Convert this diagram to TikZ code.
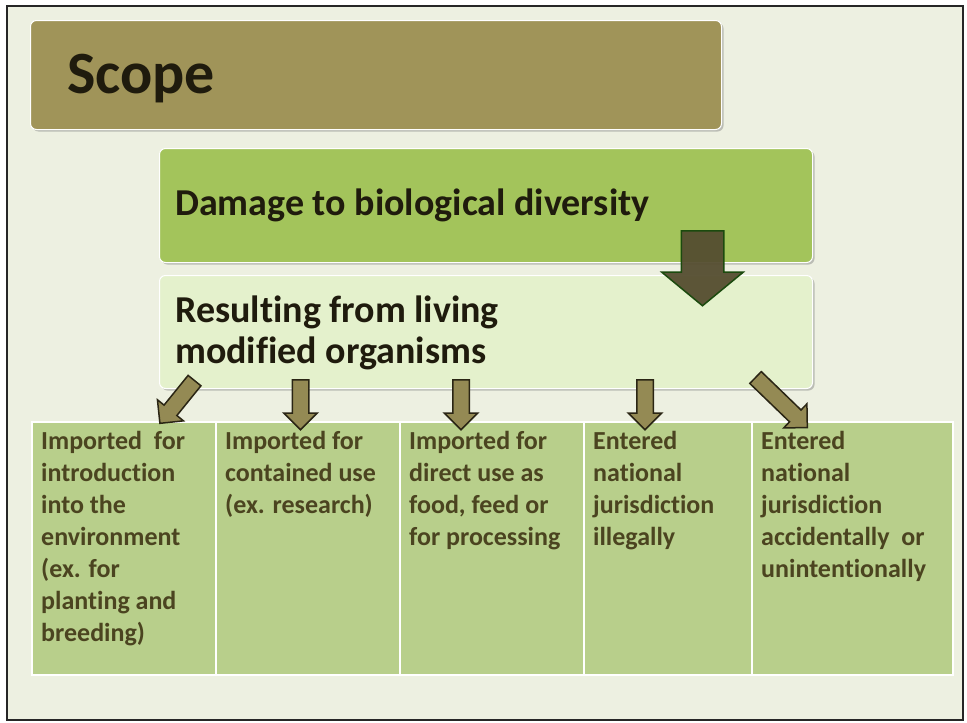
\documentclass[tikz,border=0pt]{standalone}
\usepackage{fontspec}
\setmainfont[Ligatures=NoCommon]{Carlito}
\usetikzlibrary{shapes.arrows,shadows}

\definecolor{slidebg}{HTML}{EDF0E1}
\definecolor{scopefill}{HTML}{A09459}
\definecolor{damagefill}{HTML}{A3C45B}
\definecolor{resultfill}{HTML}{E4F1CC}
\definecolor{cellfill}{HTML}{B8CF8B}
\definecolor{celltext}{HTML}{4B4420}
\definecolor{titletext}{HTML}{1F1B0D}
\definecolor{arrowfill}{HTML}{948A54}
\definecolor{arrowline}{HTML}{2A2514}
\definecolor{bigarrowfill}{HTML}{554D30}
\definecolor{bigarrowline}{HTML}{1B4A0E}

\tikzset{
  panel/.style={anchor=north west, rounded corners=6pt, draw=white, line width=1pt,
    drop shadow={shadow xshift=2pt, shadow yshift=-2pt, opacity=0.45, fill=gray}},
  paneltext/.style={anchor=base west, inner sep=0pt, text=titletext,
    font=\bfseries\fontsize{38}{41}\selectfont},
  cell/.style={anchor=north west, fill=cellfill, draw=white, line width=1.5pt},
  celllabel/.style={anchor=north west, inner sep=0pt, align=left, text=celltext,
    font=\bfseries\fontsize{26}{32}\selectfont},
  downarrow/.style={single arrow, anchor=tail, draw=arrowline, fill=arrowfill, line width=1.5pt,
    minimum width=0pt, inner xsep=0pt, inner ysep=7.5pt,
    single arrow head extend=8.5pt, minimum height=#1},
}

\begin{document}
\begin{tikzpicture}[x=1pt,y=-1pt]
    \useasboundingbox (0,0) rectangle (967,723);

    % Slide frame
    \draw[fill=slidebg, draw=black!85, line width=2.5pt] (7,6) rectangle (963,720);

    % Title bar
    \node[panel, fill=scopefill, minimum width=691, minimum height=109] (scope) at (30,20) {};
    \node[anchor=base west, inner sep=0pt, text=titletext, font=\bfseries\fontsize{60}{72}\selectfont] (scopetext) at (67,93) {Scope};

    % Damage box
    \node[panel, fill=damagefill, minimum width=653, minimum height=114] (damage) at (159,148) {};
    \node[paneltext] (damagetext) at (175,215) {Damage to biological diversity};

    % Resulting box
    \node[panel, fill=resultfill, minimum width=653, minimum height=113] (result) at (159,275) {};
    \node[paneltext] (resulttext1) at (175,322) {Resulting from living};
    \node[paneltext] (resulttext2) at (175,363) {modified organisms};

    % Big arrow between the two boxes
    \node[single arrow, anchor=tail, draw=bigarrowline, fill=bigarrowfill, fill opacity=0.95, line width=1.5pt,
      minimum width=0pt, inner xsep=0pt, inner ysep=20.5pt, single arrow head extend=19.5pt,
      single arrow tip angle=101, minimum height=75, rotate=-90] (bigarrow) at (702.5,230) {};

    % Table cells
    \node[cell, minimum width=184, minimum height=253] (cellA) at (31,421) {};
    \node[cell, minimum width=184, minimum height=253] (cellB) at (215,421) {};
    \node[cell, minimum width=184, minimum height=253] (cellC) at (399,421) {};
    \node[cell, minimum width=168, minimum height=253] (cellD) at (583,421) {};
    \node[cell, minimum width=201, minimum height=253] (cellE) at (751,421) {};

    % Cell texts
    \node[celllabel] (textA) at (41,431) {Imported\ \ for\\introduction\\into the\\environment\\(ex. for\\planting and\\breeding)};
    \node[celllabel] (textB) at (225,431) {Imported for\\contained use\\(ex. research)};
    \node[celllabel] (textC) at (409,431) {Imported for\\direct use as\\food, feed or\\for processing};
    \node[celllabel] (textD) at (593,431) {Entered\\national\\jurisdiction\\illegally};
    \node[celllabel] (textE) at (761,431) {Entered\\national\\jurisdiction\\accidentally\ \ or\\unintentionally};

    % Small arrows into the cells
    \node[downarrow=55, rotate=-129] (arrowA) at (195,380) {};
    \node[downarrow=50, rotate=-90] (arrowB) at (300.5,379) {};
    \node[downarrow=50, rotate=-90] (arrowC) at (461,379) {};
    \node[downarrow=50, rotate=-90] (arrowD) at (645,379) {};
    \node[downarrow=72, rotate=-44] (arrowE) at (755,377) {};
\end{tikzpicture}
\end{document}
